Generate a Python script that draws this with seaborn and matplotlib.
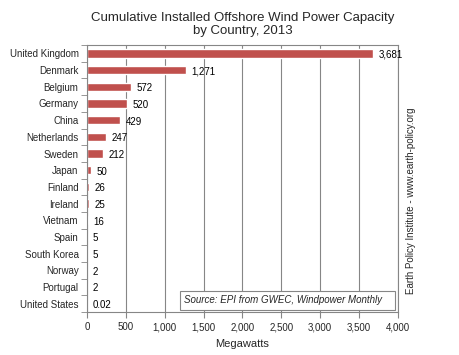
import matplotlib.pyplot as plt
import pandas as pd
import seaborn as sns
from matplotlib.ticker import FuncFormatter, MultipleLocator

countries = ['United Kingdom', 'Denmark', 'Belgium', 'Germany', 'China', 'Netherlands',
             'Sweden', 'Japan', 'Finland', 'Ireland', 'Vietnam', 'Spain', 'South Korea',
             'Norway', 'Portugal', 'United States']
capacity = [3681, 1271, 572, 520, 429, 247, 212, 50, 26, 25, 16, 5, 5, 2, 2, 0.02]
value_labels = ['3,681', '1,271', '572', '520', '429', '247', '212', '50', '26', '25',
                '16', '5', '5', '2', '2', '0.02']

df = pd.DataFrame({'country': countries, 'mw': capacity})

sns.set_style('white')
plt.rcParams['font.family'] = ['Liberation Sans', 'DejaVu Sans']

fig = plt.figure(figsize=(4.6, 3.55), dpi=100)
ax = fig.add_axes([0.189, 0.121, 0.676, 0.752])

sns.barplot(data=df, x='mw', y='country', orient='h', color='#C0504D',
            saturation=1, width=0.5, ax=ax)

# labels to the right of bars
for i, (v, lab) in enumerate(zip(capacity, value_labels)):
    ax.annotate(lab, (v, i), xytext=(4, -1), textcoords='offset points',
                va='center', ha='left', fontsize=7, color='black')

ax.set_xlim(0, 4000)
ax.set_ylim(len(countries) - 0.5, -0.5)
ax.xaxis.set_major_locator(MultipleLocator(500))
ax.xaxis.set_major_formatter(FuncFormatter(lambda x, p: f'{int(x):,}'))
ax.grid(axis='x', color='#868686', linewidth=0.8)
ax.set_axisbelow(True)

ax.set_xlabel('Megawatts', fontsize=8, labelpad=5)
ax.set_ylabel('')
ax.tick_params(axis='x', labelsize=7, length=4, direction='out', color='#868686', bottom=True)
ax.tick_params(axis='y', labelsize=7, length=0, pad=6)
ax.yaxis.set_minor_locator(MultipleLocator(1, offset=0.5))
ax.tick_params(axis='y', which='minor', length=4, direction='out', color='#868686', left=True)

for s in ax.spines.values():
    s.set_color('#868686')
    s.set_linewidth(0.8)

ax.text(0.5, 1.03, 'Cumulative Installed Offshore Wind Power Capacity\nby Country, 2013',
        transform=ax.transAxes, ha='center', va='bottom', fontsize=9.5, linespacing=1.1)

ax.text(3900, 14.8, 'Source: EPI from GWEC, Windpower Monthly   ', ha='right', va='center',
        fontsize=7, style='italic',
        bbox=dict(boxstyle='square,pad=0.45', fc='white', ec='#868686', lw=0.8))

fig.text(0.893, 0.435, 'Earth Policy Institute - www.earth-policy.org', rotation=90,
         ha='center', va='center', fontsize=7)

fig.savefig('out.png', dpi=100)
